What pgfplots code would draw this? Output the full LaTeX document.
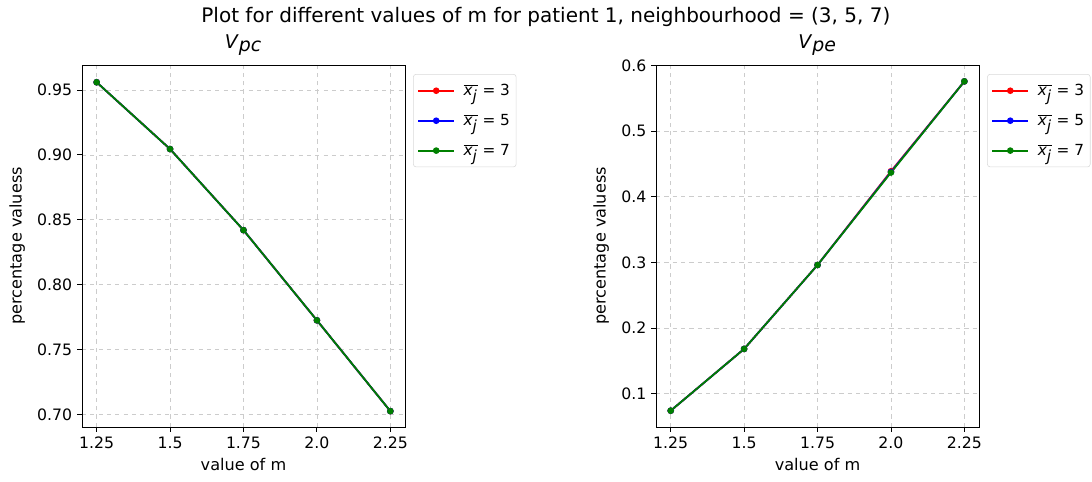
\documentclass[border=0pt]{standalone}
\usepackage{fontspec}
\setmainfont{DejaVu Sans}
\usepackage{pgfplots}
\pgfplotsset{compat=1.18}
\definecolor{mgreen}{rgb}{0,0.5,0}
\pgfplotsset{myax/.style={
 scale only axis, width=232.6pt, height=260.6pt, anchor=south west,
 xmin=1.2, xmax=2.3, xtick={1.25,1.5,1.75,2.0,2.25}, xticklabels={1.25,1.5,1.75,2.0,2.25},
 grid=major, grid style={dashed, black!20, line width=0.5pt},
 tick align=outside, tick pos=left, major tick length=3.5pt,
 axis line style={line width=0.6pt}, every tick/.style={black, line width=0.6pt},
 /pgf/number format/assume math mode=true,
 tick label style={font=\fontsize{11.3}{13.5}\selectfont},
 label style={font=\fontsize{11.6}{13.5}\selectfont},
 xlabel={value of m}, ylabel={percentage valuess},
 ylabel shift=2pt,
 title style={font=\fontsize{13.6}{16}\selectfont, yshift=-3pt},
 legend style={at={(1,1)}, anchor=north west, xshift=5.8pt, yshift=-6.5pt,
   draw=black!15, rounded corners=2pt, font=\fontsize{11}{13}\selectfont,
   row sep=9pt, inner xsep=3pt, inner ysep=5.5pt, nodes={inner sep=1.5pt}},
 legend cell align=left,
 legend image code/.code={\draw[mark repeat=2,mark phase=2] plot coordinates {(0cm,0cm) (0.45cm,0cm) (0.9cm,0cm)}; \path (1.07cm,0) ;},
 every axis plot/.append style={line width=1.3pt, mark=*, mark size=1.7pt},
}}
\newcommand{\xl}[1]{$\overline{\textit{x}_{\textit{j}}}$ = #1}
\begin{document}
\begin{tikzpicture}
\path[use as bounding box] (0,0) rectangle (786.2pt,347pt);
\node[font=\fontsize{14.4}{17}\selectfont] at (393pt,334.5pt) {Plot for different values of m for patient 1, neighbourhood = (3, 5, 7)};
\begin{axis}[myax, at={(59pt,39.6pt)}, ymin=0.6903, ymax=0.9693,
  ytick={0.70,0.75,0.80,0.85,0.90,0.95},
  yticklabel style={/pgf/number format/.cd, fixed, fixed zerofill, precision=2},
  title={\textit{V}$_{\textit{pc}}$}]
\addplot[red, mark options={fill=red}] coordinates {(1.25,0.956) (1.5,0.9045) (1.75,0.842) (2.0,0.7725) (2.25,0.7025)};
\addlegendentry{\xl{3}}
\addplot[blue, mark options={fill=blue}] coordinates {(1.25,0.956) (1.5,0.9045) (1.75,0.842) (2.0,0.7725) (2.25,0.7025)};
\addlegendentry{\xl{5}}
\addplot[mgreen, mark options={fill=mgreen}] coordinates {(1.25,0.956) (1.5,0.9045) (1.75,0.842) (2.0,0.7725) (2.25,0.7025)};
\addlegendentry{\xl{7}}
\end{axis}
\begin{axis}[myax, at={(472.3pt,39.6pt)}, ymin=0.049, ymax=0.601,
  ytick={0.1,0.2,0.3,0.4,0.5,0.6},
  yticklabel style={/pgf/number format/.cd, fixed, fixed zerofill, precision=1},
  title={\textit{V}$_{\textit{pe}}$}]
\addplot[red, mark options={fill=red}] coordinates {(1.25,0.0738) (1.5,0.168) (1.75,0.296) (2.0,0.439) (2.25,0.576)};
\addlegendentry{\xl{3}}
\addplot[blue, mark options={fill=blue}] coordinates {(1.25,0.0738) (1.5,0.168) (1.75,0.296) (2.0,0.438) (2.25,0.576)};
\addlegendentry{\xl{5}}
\addplot[mgreen, mark options={fill=mgreen}] coordinates {(1.25,0.0738) (1.5,0.168) (1.75,0.296) (2.0,0.437) (2.25,0.576)};
\addlegendentry{\xl{7}}
\end{axis}
\end{tikzpicture}
\end{document}
